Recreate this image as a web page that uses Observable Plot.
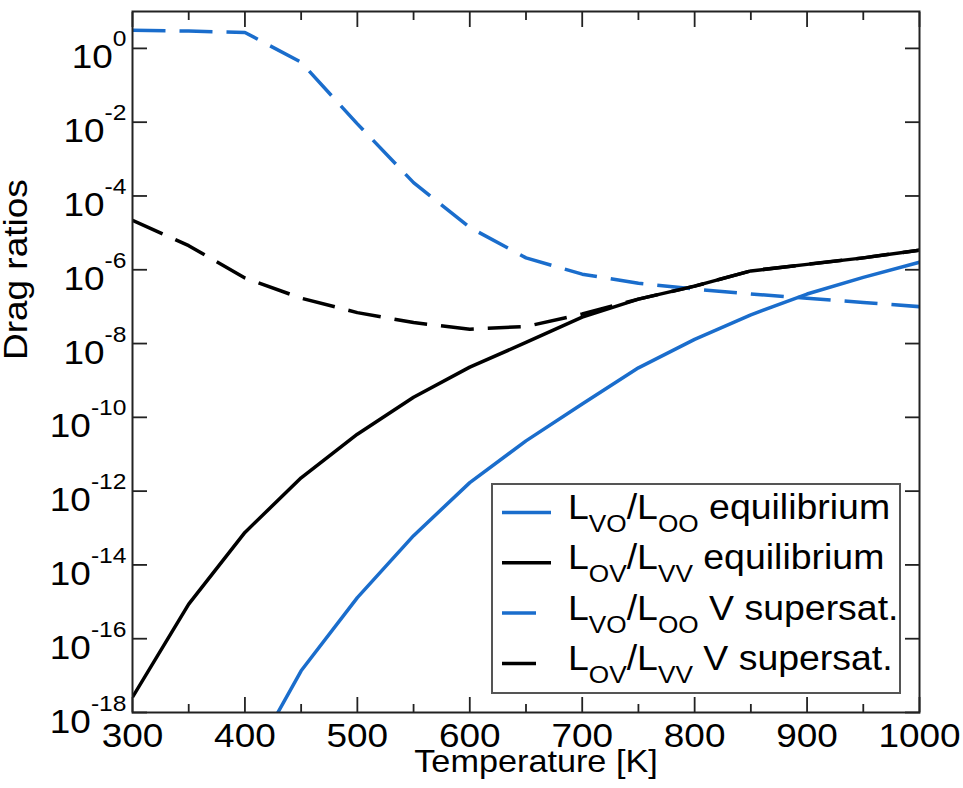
<!DOCTYPE html>
<html><head><meta charset="utf-8">
<script src="https://cdn.jsdelivr.net/npm/d3@7"></script>
<script src="https://cdn.jsdelivr.net/npm/@observablehq/plot@0.6"></script>
<style>
html,body{margin:0;padding:0;background:#fff;}
#chart{position:relative;width:963px;height:788px;}
svg{display:block;}
</style></head><body><div id="chart"></div>
<script>
// ---- data ----
const temperature = [300,350,400,450,500,550,600,650,700,750,800,850,900,950,1000];
const lvoLooEquilibrium = [null,null,2.5e-20,1.35e-17,1.3e-15,6.2e-14,1.7e-12,2.3e-11,2.3e-10,2.2e-9,1.3e-8,6.0e-8,2.2e-7,6.2e-7,1.6e-6];
const lovLvvEquilibrium = [2.6e-18,8.7e-16,7.6e-14,2.3e-12,3.5e-11,3.5e-10,2.3e-9,1.07e-8,5.2e-8,1.6e-7,3.6e-7,9.3e-7,1.4e-6,2.1e-6,3.4e-6];
const lvoLooSupersat = [3.1,2.95,2.7,0.42,0.009,2.3e-4,1.4e-5,2.1e-6,7.6e-7,4.3e-7,3.0e-7,2.2e-7,1.7e-7,1.3e-7,1.0e-7];
const lovLvvSupersat = [2.2e-5,4.5e-6,6.0e-7,1.7e-7,6.9e-8,3.7e-8,2.45e-8,2.9e-8,6.3e-8,1.6e-7,3.6e-7,9.3e-7,1.4e-6,2.1e-6,3.4e-6];

const xMajorTicks = [300,400,500,600,700,800,900,1000];
const xMinorTicks = [350,450,550,650,750,850,950];
const yTicks = [1e-18,1e-16,1e-14,1e-12,1e-10,1e-8,1e-6,1e-4,1e-2,1e0];

const legendNumerator = ["VO","OV","VO","OV"];
const legendDenominator = ["OO","VV","OO","VV"];
const legendSuffix = ["equilibrium","equilibrium","V supersat.","V supersat."];

const xLabel = "Temperature [K]";
const yLabel = "Drag ratios";

// ---- styling ----
const BLUE = "#1a6dcc";
const BLACK = "#000000";
const AXIS = "#222222";
const FONT = "'Liberation Sans', Arial, Helvetica, sans-serif";
const DASH = "33,14";

const series = [
  {values: lvoLooEquilibrium, color: BLUE, dash: null},
  {values: lovLvvEquilibrium, color: BLACK, dash: null},
  {values: lvoLooSupersat, color: BLUE, dash: DASH},
  {values: lovLvvSupersat, color: BLACK, dash: DASH}
];

const lineMarks = series.map(s => Plot.line(
  temperature.map((t, i) => ({t, v: s.values[i]})).filter(d => d.v != null),
  {x: "t", y: "v", stroke: s.color, strokeWidth: 3.5, strokeDasharray: s.dash,
   strokeLinecap: "butt", strokeLinejoin: "round", clip: true}
));

const tickStyle = {fill: "none", stroke: AXIS, strokeWidth: 1.8, label: null};

const chart = Plot.plot({
  width: 963,
  height: 788,
  marginLeft: 132,
  marginRight: 44,
  marginTop: 11,
  marginBottom: 76,
  style: {fontFamily: FONT, background: "#fff", color: "#000"},
  x: {domain: [300, 1000]},
  y: {type: "log", domain: [1e-18, 10]},
  marks: [
    ...lineMarks,
    Plot.axisX(xMajorTicks, {anchor: "bottom", tickSize: -15, ...tickStyle}),
    Plot.axisX(xMajorTicks, {anchor: "top", tickSize: -15, ...tickStyle}),
    Plot.axisX(xMinorTicks, {anchor: "bottom", tickSize: -8, ...tickStyle}),
    Plot.axisX(xMinorTicks, {anchor: "top", tickSize: -8, ...tickStyle}),
    Plot.axisY(yTicks, {anchor: "left", tickSize: -15, ...tickStyle}),
    Plot.axisY(yTicks, {anchor: "right", tickSize: -15, ...tickStyle}),
    Plot.axisX(xMajorTicks, {anchor: "bottom", tickSize: 0, tickPadding: 11, stroke: "none",
      fill: "#000", fontSize: 33, label: null, tickFormat: d => String(d)}),
    Plot.axisY(yTicks, {anchor: "left", tickSize: 0, tickPadding: 6, stroke: "none",
      fill: "#000", fontSize: 33, label: null, tickFormat: d => String(Math.round(Math.log10(d)))}),
    Plot.frame({stroke: AXIS, strokeWidth: 2}),
    Plot.text([xLabel], {frameAnchor: "bottom", dx: 10, dy: 59, fontSize: 32, fill: "#000"}),
    Plot.text([yLabel], {frameAnchor: "left", dx: -106, dy: -2, rotate: -90, fontSize: 33, fill: "#000"})
  ]
});

document.getElementById("chart").appendChild(chart);

// ---- post-processing of text (superscripts, glyph width) ----
const NS = "http://www.w3.org/2000/svg";
function stretch(el, s) {
  const t = el.getAttribute("transform") || "";
  el.setAttribute("transform", (t + ` scale(${s},1)`).trim());
}
chart.querySelectorAll('g[aria-label="y-axis tick label"] text').forEach(t => {
  const e = t.textContent;
  t.textContent = "";
  t.removeAttribute("y"); t.removeAttribute("dy");
  const a = document.createElementNS(NS, "tspan");
  a.setAttribute("dy", "20"); a.setAttribute("font-size", "33"); a.textContent = "10";
  const b = document.createElementNS(NS, "tspan");
  b.setAttribute("dy", "-22"); b.setAttribute("font-size", "22"); b.textContent = e;
  t.append(a, b);
  stretch(t, 1.12);
});
chart.querySelectorAll('g[aria-label="x-axis tick label"] text').forEach(t => stretch(t, 1.12));
chart.querySelectorAll('text').forEach(t => {
  if (t.textContent === xLabel) {
    t.removeAttribute("dy"); t.setAttribute("y", "0"); stretch(t, 1.07);
  } else if (t.textContent === yLabel) {
    t.removeAttribute("dy"); t.setAttribute("y", "0"); stretch(t, 1.12);
  }
});

// ---- legend ----
const lg = d3.select(chart).append("g").attr("font-family", FONT).attr("fill", "#000")
  .attr("text-anchor", "start");
lg.append("rect").attr("x", 492).attr("y", 484).attr("width", 408).attr("height", 209)
  .attr("fill", "#fff").attr("stroke", "#555").attr("stroke-width", 2);
series.forEach((s, i) => {
  const cy = 512.5 + i * 50.3;
  lg.append("line").attr("x1", 502).attr("x2", s.dash ? 536 : 551).attr("y1", cy).attr("y2", cy)
    .attr("stroke", s.color).attr("stroke-width", 3.5);
  const t = lg.append("text").attr("text-anchor", "start")
    .attr("transform", `translate(568,${cy + 6.5}) scale(1.07,1)`).attr("font-size", 35);
  t.append("tspan").text("L");
  t.append("tspan").attr("dy", 13).attr("font-size", 24.5).text(legendNumerator[i]);
  t.append("tspan").attr("dy", -13).text("/L");
  t.append("tspan").attr("dy", 13).attr("font-size", 24.5).text(legendDenominator[i]);
  t.append("tspan").attr("dy", -13).text(" " + legendSuffix[i]);
});
</script></body></html>
